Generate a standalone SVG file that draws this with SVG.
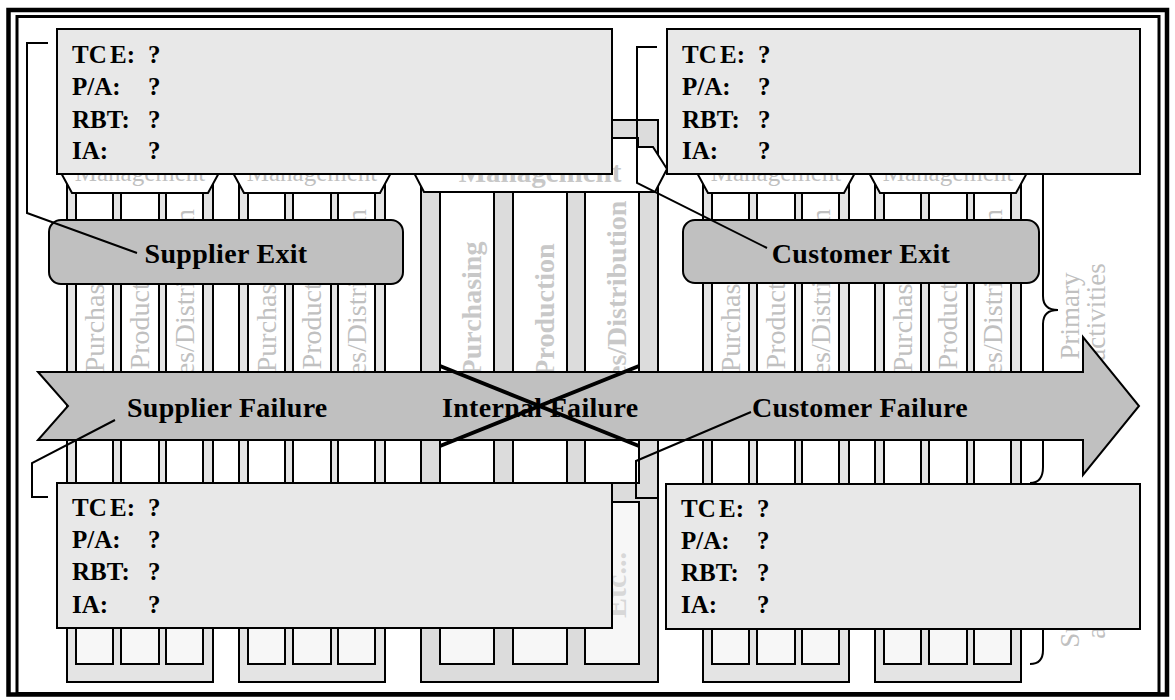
<svg xmlns="http://www.w3.org/2000/svg" xmlns:xlink="http://www.w3.org/1999/xlink" width="1175" height="700" viewBox="0 0 1175 700">
<style>
.ln{stroke:#000;stroke-width:2;fill:none}
.strip{fill:#e4e4e4;stroke:#000;stroke-width:2}
.stripC{fill:#dcdcdc;stroke:#000;stroke-width:2}
.col{fill:#fff;stroke:#000;stroke-width:2}
.etc{fill:#f7f7f7;stroke:#000;stroke-width:2}
.hex{fill:#fff;stroke:#000;stroke-width:2}
.lbl{font-family:"Liberation Serif","Times New Roman",serif;font-size:28px;fill:#c0c0c0;text-anchor:middle}
.mg{font-family:"Liberation Serif","Times New Roman",serif;font-size:25px;fill:#c0c0c0;text-anchor:middle}
.lblC{font-family:"Liberation Serif","Times New Roman",serif;font-size:28px;font-weight:bold;fill:#c8c8c8;text-anchor:middle}
.side{font-family:"Liberation Serif","Times New Roman",serif;font-size:27px;fill:#c0c0c0;text-anchor:middle}
.tce{fill:#e8e8e8;stroke:#000;stroke-width:2}
.tt{font-family:"Liberation Serif","Times New Roman",serif;font-size:25px;font-weight:bold;fill:#000;word-spacing:-3px}
.gbox{fill:#c0c0c0;stroke:#000;stroke-width:2}
.big{font-family:"Liberation Serif","Times New Roman",serif;font-size:28px;font-weight:bold;fill:#000;letter-spacing:0.3px}
</style>
<defs>
<g id="chainSmall">
<rect class="strip" x="0" y="150" width="146" height="532"/>
<polygon class="hex" points="5,150 141,150 153,171 141,193 5,193 -7,171"/>
<text class="mg" x="73" y="181">Management</text>
<rect class="col" x="9" y="193" width="37" height="297"/>
<rect class="col" x="54" y="193" width="38" height="297"/>
<rect class="col" x="99" y="193" width="37" height="297"/>
<rect class="etc" x="9" y="505" width="37" height="159"/>
<rect class="etc" x="54" y="505" width="38" height="159"/>
<rect class="etc" x="99" y="505" width="37" height="159"/>
<text class="lbl" transform="translate(36.5,310) rotate(-90)">Purchasing</text>
<text class="lbl" transform="translate(82,308) rotate(-90)">Production</text>
<text class="lbl" transform="translate(126.5,310) rotate(-90)">Sales/Distribution</text>
</g>
</defs>
<rect x="0" y="0" width="1175" height="700" fill="#fff"/>
<g id="frame">
<rect x="8.5" y="10" width="1158.5" height="684.5" fill="none" stroke="#000" stroke-width="4.5"/>
<rect x="17" y="16.5" width="1142" height="677" fill="none" stroke="#000" stroke-width="3"/>
</g>
<g id="chain-supplier2"><use xlink:href="#chainSmall" href="#chainSmall" x="67" y="0"/></g>
<g id="chain-supplier1"><use xlink:href="#chainSmall" href="#chainSmall" x="239" y="0"/></g>
<g id="chain-focal">
<rect class="stripC" x="421" y="120" width="237" height="562"/>
<polygon class="hex" points="426,138 638,138 638,147 653,147 667,169 655,192 424,192 412,169"/>
<text class="lblC" x="540" y="182" style="font-size:29px">Management</text>
<rect class="col" x="440" y="192" width="54" height="291"/>
<rect class="col" x="513" y="192" width="54" height="291"/>
<rect class="col" x="585" y="192" width="54" height="291"/>
<rect class="etc" x="440" y="502" width="54" height="162"/>
<rect class="etc" x="513" y="502" width="54" height="162"/>
<rect class="etc" x="585" y="502" width="54" height="162"/>
<text class="lblC" transform="translate(481,309) rotate(-90)">Purchasing</text>
<text class="lblC" transform="translate(554,310) rotate(-90)">Production</text>
<text class="lblC" transform="translate(626,308) rotate(-90)">Sales/Distribution</text>
<text class="lblC" transform="translate(626,585) rotate(-90)" style="fill:#d8d8d8;font-size:30px">Etc...</text>
</g>
<g id="chain-customer1"><use xlink:href="#chainSmall" href="#chainSmall" x="703" y="0"/></g>
<g id="chain-customer2"><use xlink:href="#chainSmall" href="#chainSmall" x="875" y="0"/></g>
<g id="brace-primary">
<path class="ln" d="M1030,160 Q1043,160 1043,174 L1043,296 Q1043,310 1058,310 Q1043,310 1043,324 L1043,467 Q1043,483 1030,483"/>
<text class="side" transform="translate(1079,316) rotate(-90)">Primary</text>
<text class="side" transform="translate(1105,312) rotate(-90)">activities</text>
</g>
<g id="brace-support">
<path class="ln" d="M1030,500 Q1043,500 1043,512 L1043,568 Q1043,580 1058,580 Q1043,580 1043,592 L1043,650 Q1043,664 1030,664"/>
<text class="side" transform="translate(1079,605) rotate(-90)">Support</text>
<text class="side" transform="translate(1105,590) rotate(-90)">activities</text>
</g>
<g id="supplier-exit">
<rect class="gbox" x="49" y="220" width="354" height="64" rx="12"/>
<text class="big" x="226" y="263" text-anchor="middle">Supplier Exit</text>
</g>
<g id="customer-exit">
<rect class="gbox" x="683" y="220" width="356" height="63" rx="12"/>
<text class="big" x="861" y="263" text-anchor="middle">Customer Exit</text>
</g>
<g id="failure-arrow">
<polygon class="gbox" points="38,372 1083,372 1083,337 1139,406 1083,475 1083,440 38,440 68,406"/>
<text class="big" x="127" y="417">Supplier Failure</text>
<text class="big" x="442" y="417">Internal Failure</text>
<text class="big" x="752" y="417">Customer Failure</text>
</g>
<g id="internal-cross">
<line x1="440" y1="366" x2="639" y2="446" stroke="#000" stroke-width="4"/>
<line x1="440" y1="446" x2="639" y2="366" stroke="#000" stroke-width="4"/>
</g>
<g id="tce-supplier-exit">
<rect class="tce" x="57" y="29" width="555" height="145"/>
<text class="tt" x="72" y="63">TC E:<tspan x="148">?</tspan></text>
<text class="tt" x="72" y="95">P/A:<tspan x="148">?</tspan></text>
<text class="tt" x="72" y="128">RBT:<tspan x="148">?</tspan></text>
<text class="tt" x="72" y="159">IA:<tspan x="148">?</tspan></text>
</g>
<g id="tce-customer-exit">
<rect class="tce" x="667" y="29" width="473" height="145"/>
<text class="tt" x="682" y="63">TC E:<tspan x="758">?</tspan></text>
<text class="tt" x="682" y="95">P/A:<tspan x="758">?</tspan></text>
<text class="tt" x="682" y="128">RBT:<tspan x="758">?</tspan></text>
<text class="tt" x="682" y="159">IA:<tspan x="758">?</tspan></text>
</g>
<g id="tce-supplier-failure">
<rect class="tce" x="57" y="483" width="555" height="145"/>
<text class="tt" x="72" y="516">TC E:<tspan x="148">?</tspan></text>
<text class="tt" x="72" y="548">P/A:<tspan x="148">?</tspan></text>
<text class="tt" x="72" y="580">RBT:<tspan x="148">?</tspan></text>
<text class="tt" x="72" y="613">IA:<tspan x="148">?</tspan></text>
</g>
<g id="tce-customer-failure">
<rect class="tce" x="666" y="484" width="474" height="145"/>
<text class="tt" x="681" y="517">TC E:<tspan x="757">?</tspan></text>
<text class="tt" x="681" y="549">P/A:<tspan x="757">?</tspan></text>
<text class="tt" x="681" y="581">RBT:<tspan x="757">?</tspan></text>
<text class="tt" x="681" y="613">IA:<tspan x="757">?</tspan></text>
</g>
<g id="connectors">
<polyline class="ln" points="48,43 27,43 27,213 137,253"/>
<polyline class="ln" points="657,47 637,47 637,183 767,248"/>
<polyline class="ln" points="48,497 32,497 32,463 115,420"/>
<polyline class="ln" points="657,498 636,498 636,461 751,412"/>
</g>
</svg>
